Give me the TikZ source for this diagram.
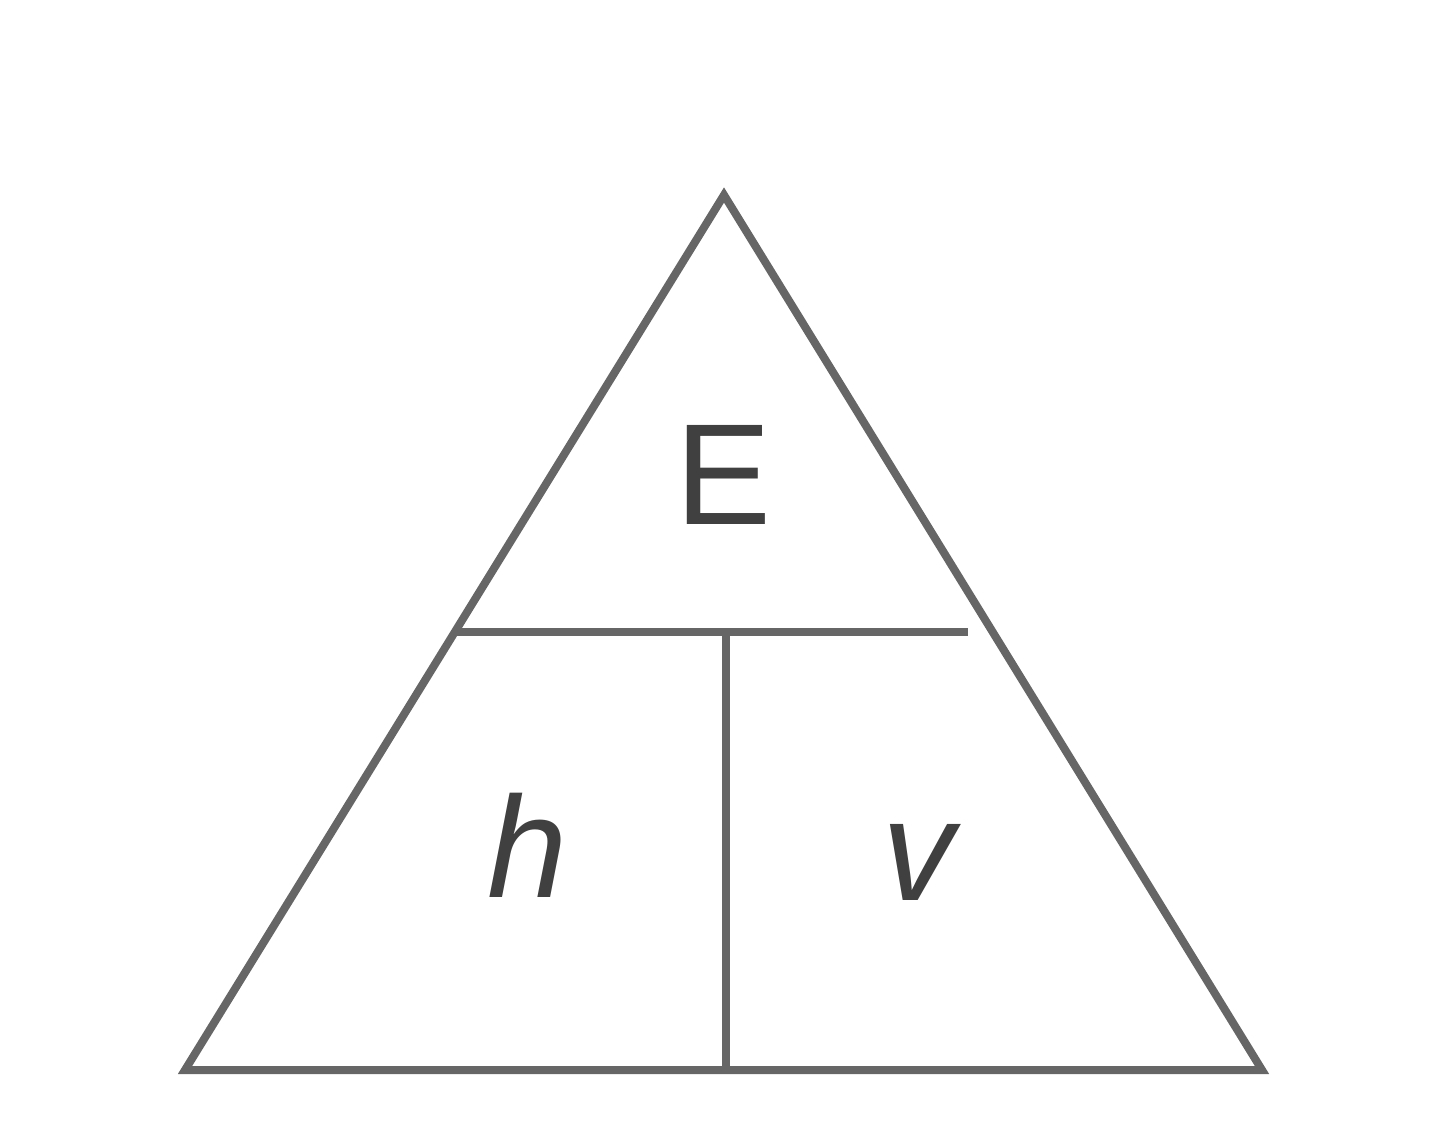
\documentclass[tikz,border=0pt]{standalone}
\usepackage{fontspec}
\setmainfont{Liberation Sans}
\begin{document}
\begin{tikzpicture}[x=0.5pt,y=-0.5pt,
  edge/.style={draw=black!60,line width=4pt,line join=miter},
  lbl/.style={text=black!75,font=\fontsize{72}{80}\selectfont,inner sep=0pt}]
\useasboundingbox (0,0) rectangle (1440,1136);
\coordinate (top) at (724,195);
\coordinate (bl) at (185,1070);
\coordinate (br) at (1262,1070);
\coordinate (ml) at (455,632);
\coordinate (mr) at (968,632);
\coordinate (vt) at (726,632);
\coordinate (vb) at (726,1070);
\draw[edge] (top) -- (br) -- (bl) -- cycle;
\draw[edge] (ml) -- (mr);
\draw[edge] (vt) -- (vb);
\node[lbl] (E) at (724,475) {E};
\node[lbl] (h) at (528,845) {\itshape h};
\node[lbl] (v) at (918,862) {\itshape v};
\end{tikzpicture}
\end{document}
